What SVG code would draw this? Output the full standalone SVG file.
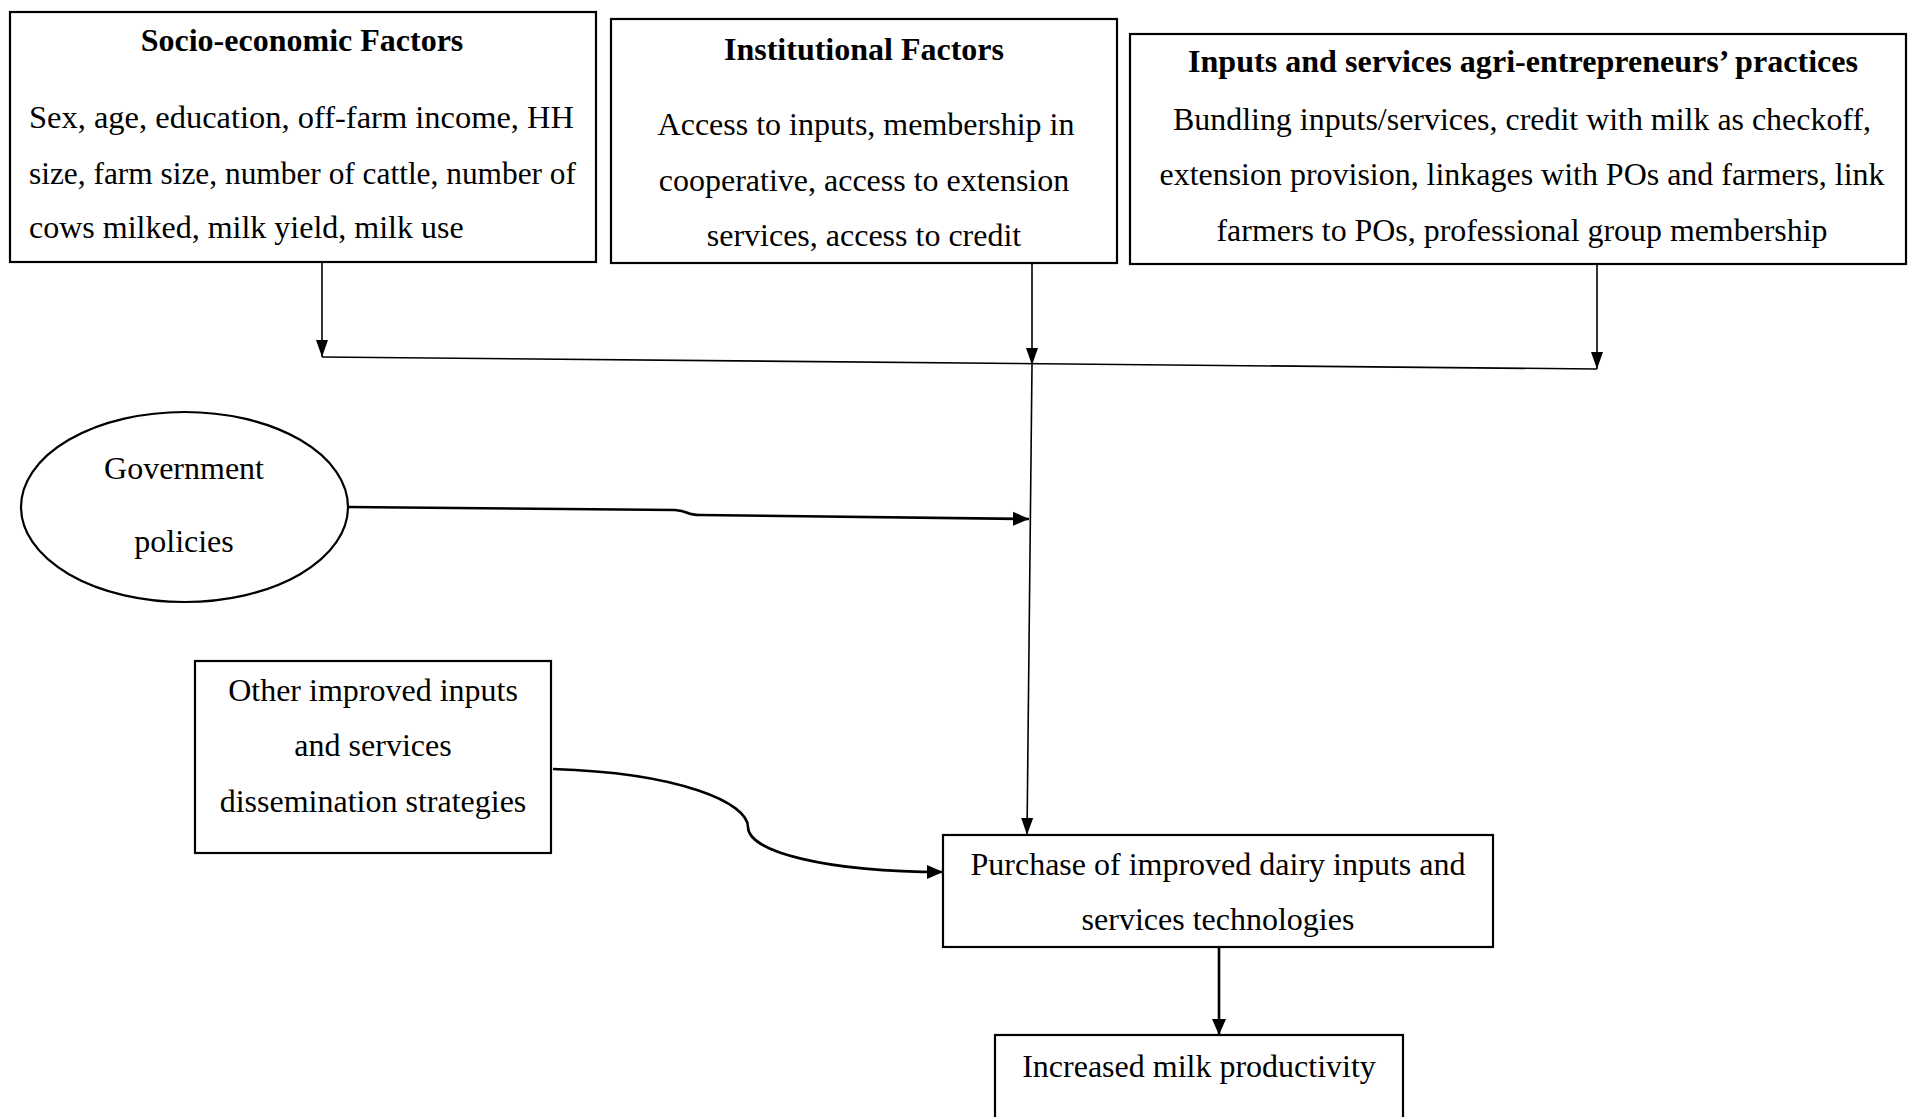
<svg xmlns="http://www.w3.org/2000/svg" width="1908" height="1117" viewBox="0 0 1908 1117">
<style>
.box{fill:#fff;stroke:#000;stroke-width:2.2}
.t{font-family:"Liberation Serif","Times New Roman",serif;font-size:32px;fill:#000}
.b{font-weight:bold}
.c{text-anchor:middle}
.ln{fill:none;stroke:#000;stroke-width:1.6}
.lt{fill:none;stroke:#000;stroke-width:2.6}
</style>
<defs>
<marker id="ah" markerUnits="userSpaceOnUse" markerWidth="18" markerHeight="14" refX="17" refY="7" orient="auto">
<path d="M0,1 L17,7 L0,13 Z" fill="#000"/>
</marker>
<marker id="aht" markerUnits="userSpaceOnUse" markerWidth="18" markerHeight="16" refX="16" refY="8" orient="auto">
<path d="M0,1 L16,8 L0,15 Z" fill="#000"/>
</marker>
</defs>
<rect width="1908" height="1117" fill="#fff"/>
<g id="socio">
<rect class="box" x="10" y="12" width="586" height="250"/>
<text class="t b c" x="302" y="51">Socio-economic Factors</text>
<text class="t" x="29" y="128" textLength="545" lengthAdjust="spacingAndGlyphs">Sex, age, education, off-farm income, HH</text>
<text class="t" x="29" y="184" textLength="547" lengthAdjust="spacingAndGlyphs">size, farm size, number of cattle, number of</text>
<text class="t" x="29" y="238">cows milked, milk yield, milk use</text>
</g>
<g id="institutional">
<rect class="box" x="611" y="19" width="506" height="244"/>
<text class="t b c" x="864" y="60">Institutional Factors</text>
<text class="t c" x="866" y="135">Access to inputs, membership in</text>
<text class="t c" x="864" y="191">cooperative, access to extension</text>
<text class="t c" x="864" y="246">services, access to credit</text>
</g>
<g id="agri">
<rect class="box" x="1130" y="34" width="776" height="230"/>
<text class="t b c" x="1523" y="72" textLength="670" lengthAdjust="spacingAndGlyphs">Inputs and services agri-entrepreneurs’ practices</text>
<text class="t c" x="1522" y="130" textLength="698" lengthAdjust="spacingAndGlyphs">Bundling inputs/services, credit with milk as checkoff,</text>
<text class="t c" x="1522" y="185" textLength="725" lengthAdjust="spacingAndGlyphs">extension provision, linkages with POs and farmers, link</text>
<text class="t c" x="1522" y="241" textLength="611" lengthAdjust="spacingAndGlyphs">farmers to POs, professional group membership</text>
</g>
<g id="government">
<ellipse class="box" cx="184.5" cy="507" rx="163.5" ry="95"/>
<text class="t c" x="184" y="479">Government</text>
<text class="t c" x="184" y="552">policies</text>
</g>
<g id="other">
<rect class="box" x="195" y="661" width="356" height="192"/>
<text class="t c" x="373" y="701">Other improved inputs</text>
<text class="t c" x="373" y="756">and services</text>
<text class="t c" x="373" y="812">dissemination strategies</text>
</g>
<g id="purchase">
<rect class="box" x="943" y="835" width="550" height="112"/>
<text class="t c" x="1218" y="875">Purchase of improved dairy inputs and</text>
<text class="t c" x="1218" y="930">services technologies</text>
</g>
<g id="increased">
<rect class="box" x="995" y="1035" width="408" height="90"/>
<text class="t c" x="1199" y="1077">Increased milk productivity</text>
</g>
<g id="connectors">
<line class="ln" x1="322" y1="262" x2="322" y2="357" marker-end="url(#ah)"/>
<line class="ln" x1="1032" y1="263" x2="1032" y2="365" marker-end="url(#ah)"/>
<line class="ln" x1="1597" y1="264" x2="1597" y2="369" marker-end="url(#ah)"/>
<line class="ln" x1="322" y1="357" x2="1597" y2="369"/>
<line class="ln" x1="1032" y1="365" x2="1027" y2="835" marker-end="url(#ah)"/>
<path class="lt" d="M348,507 L675,510 C690,511 685,515 700,515 L1029,519" marker-end="url(#aht)"/>
<path class="lt" d="M553,769 C681,773 748,803 748,827 C748,852 827,872 943,872" marker-end="url(#aht)"/>
<line class="lt" x1="1219" y1="947" x2="1219" y2="1035" marker-end="url(#aht)"/>
</g>
</svg>
